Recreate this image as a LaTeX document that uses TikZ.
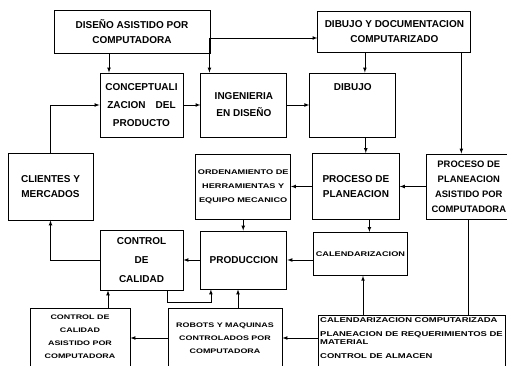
\documentclass[tikz,border=0pt]{standalone}
\usepackage{fontspec}
\setmainfont{Liberation Sans}
\newfontfamily\widefont{Liberation Sans}[FakeStretch=1.35]
\usetikzlibrary{calc,
	positioning
}
\tikzset{
	block/.style={draw, line width=0.9pt, align=center, inner xsep=2pt, inner ysep=3pt, font=\fontsize{10}{15}\selectfont\bfseries},
	wide-block/.style={block, font=\widefont\fontsize{6.8}{14}\selectfont\bfseries},
	low-block/.style={block, anchor=north, font=\widefont\fontsize{6.6}{13}\selectfont\bfseries},
	conn/.style={line width=0.7pt},
}
\begin{document}
\begin{tikzpicture}[x=1pt, y=-1pt, -latex]

\useasboundingbox (0,0) rectangle (507,366);
\clip (0,0) rectangle (507,366);

% boxes

\node[block, minimum width=156pt, minimum height=43pt] (disenio) at (132,31.5) {DISEÑO ASISTIDO POR\\COMPUTADORA};
\node[block, minimum width=153pt, minimum height=41pt, right=107pt of disenio] (dibdoc) {DIBUJO Y DOCUMENTACION\\COMPUTARIZADO};

\node[block, minimum width=83pt, minimum height=64pt, font=\fontsize{10}{18}\selectfont\bfseries] (concep) at (141.5,105) {CONCEPTUALI\\ZACION\quad DEL\\PRODUCTO};
\node[block, minimum width=86pt, minimum height=64pt, right=17pt of concep, font=\fontsize{10}{17}\selectfont\bfseries] (ingen) {INGENIERIA\\EN DISEÑO};
\node[block, minimum width=86pt, minimum height=64pt, right=22pt of ingen, text height=15pt, text depth=43pt] (dibujo) {DIBUJO};

\node[block, minimum width=85pt, minimum height=67pt] (clientes) at (50.5,186.5) {CLIENTES Y\\MERCADOS};
\node[wide-block, minimum width=91pt, minimum height=65pt, right=102pt of clientes] (orden) {ORDENAMIENTO DE\\HERRAMIENTAS Y\\EQUIPO MECANICO};
\node[block, minimum width=87pt, minimum height=66pt, right=21pt of orden] (proceso) {PROCESO DE\\PLANEACION};
\node[block, minimum width=85pt, minimum height=65pt, right=26pt of proceso, font=\fontsize{9.4}{15}\selectfont\bfseries] (procasis) {PROCESO DE\\PLANEACION\\ASISTIDO POR\\COMPUTADORA};

\node[block, minimum width=83pt, minimum height=60pt, font=\fontsize{10}{19}\selectfont\bfseries] (control) at (141.5,260) {CONTROL\\DE\\CALIDAD};
\node[block, minimum width=86pt, minimum height=58pt, right=17pt of control] (produc) {PRODUCCION};
\node[wide-block, minimum width=94pt, minimum height=43pt, below=12pt of proceso, xshift=4.5pt] (calend) {CALENDARIZACION};

\node[low-block, minimum width=100pt, inner ysep=6pt] (ctrlasis) at (80,308) {CONTROL DE\\CALIDAD\\ASISTIDO POR\\COMPUTADORA\\ \mbox{}};
\node[low-block, minimum width=114pt, inner ysep=14pt] (robots) at (225,308) {ROBOTS Y MAQUINAS\\CONTROLADOS POR\\COMPUTADORA\\ \mbox{}};
\node[low-block, minimum width=187pt, align=left, inner ysep=2pt, font=\widefont\fontsize{7}{8}\selectfont\bfseries] (calcomp) at (411.5,315) {CALENDARIZACION COMPUTARIZADA\\[6pt]PLANEACION DE REQUERIMIENTOS DE\\MATERIAL\\[6pt]CONTROL DE ALMACEN\\[6pt] \mbox{}};

% connections

\coordinate (j1) at ([yshift=-6.5pt]disenio.east);
\coordinate (j2) at ([yshift=-30pt]robots.north);

\draw[conn] (j1) -- (j1 -| dibdoc.west);
\draw[conn] ([xshift=9pt]ingen.north west |- j1) -- ([xshift=9pt]ingen.north west);
\draw[conn] ([xshift=-23pt]disenio.south) -- ([xshift=-23pt]disenio.south |- concep.north);

\path (concep.east) edge [conn] (ingen.west);
\path (ingen.east) edge [conn] (dibujo.west);

\draw[conn] ([xshift=-29.5pt]dibdoc.south) -- ([xshift=-29.5pt]dibdoc.south |- dibujo.north);
\draw[conn] ([xshift=-10pt]dibdoc.south east) -- ([xshift=-10pt]dibdoc.south east |- procasis.north);
\draw[conn] ([xshift=13pt]dibujo.south) -- ([xshift=13pt]dibujo.south |- proceso.north);

\draw[conn] (procasis.west) -- (procasis.west -| proceso.east);
\draw[conn] (proceso.west) -- (proceso.west -| orden.east);
\draw[conn] (orden.south) -- (orden.south |- produc.north);
\draw[conn] ([xshift=13.5pt]proceso.south) -- ([xshift=13.5pt]proceso.south |- calend.north);

\draw[conn] (calend.west |- produc.east) -- (produc.east);
\draw[conn] (produc.west) -- (produc.west -| control.east);
\draw[conn] (control.west) -| (clientes.south);
\draw[conn] (clientes.north) |- (concep.west);
\draw[conn] ([xshift=25.5pt]control.south) -- ++(0,12) -| ([xshift=-33pt]produc.south);

\draw[conn] ([xshift=28pt]ctrlasis.north) -- ([xshift=28pt]ctrlasis.north |- control.south);
\draw[conn] ([xshift=13pt]robots.north) -- ([xshift=13pt]robots.north |- produc.south);
\draw[conn] (robots.west |- j2) -- (ctrlasis.east |- j2);
\draw[conn] (calcomp.west |- j2) -- (robots.east |- j2);
\draw[conn] ([xshift=-48.5pt]calcomp.north) -- ([xshift=-48.5pt]calcomp.north |- calend.south);
\draw[conn, -] (procasis.south) -- (procasis.south |- calcomp.north);

\end{tikzpicture}
\end{document}
